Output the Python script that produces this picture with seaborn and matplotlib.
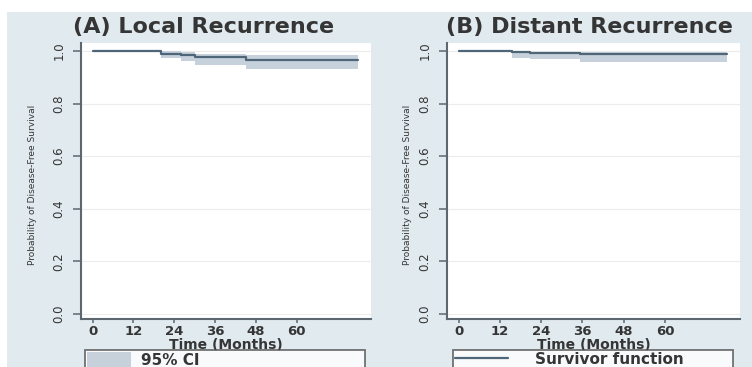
"""
Kaplan-Meier style disease-free survival curves: local vs distant recurrence.
"""

import matplotlib

matplotlib.use("Agg")

import matplotlib.pyplot as plt
import pandas as pd
import seaborn as sns
from matplotlib.lines import Line2D
from matplotlib.patches import Patch, Rectangle

# (A) Local recurrence: step times (months), survivor estimate and 95% CI
TIME_A = [0, 20, 26, 30, 45, 78]
SURV_A = [1.0, 0.990, 0.985, 0.978, 0.966, 0.966]
LOW_A = [1.0, 0.972, 0.963, 0.947, 0.930, 0.930]
UPP_A = [1.0, 0.998, 0.995, 0.987, 0.984, 0.984]

# (B) Distant recurrence
TIME_B = [0, 15.6, 20.6, 35.3, 78]
SURV_B = [1.0, 0.995, 0.991, 0.987, 0.987]
LOW_B = [1.0, 0.973, 0.968, 0.958, 0.958]
UPP_B = [1.0, 0.998, 0.997, 0.996, 0.996]

TITLES = ["(A) Local Recurrence", "(B) Distant Recurrence"]
X_TICKS = [0, 12, 24, 36, 48, 60]
Y_TICKS = [0.0, 0.2, 0.4, 0.6, 0.8, 1.0]
Y_LABEL = "Probability of Disease-Free Survival"
X_LABEL = "Time (Months)"

BG = "#e1eaee"
LINE = "#4f6578"
BAND = "#c7d1db"
AXIS = "#5d6770"
TEXT = "#353535"

sns.set_theme(style="ticks")
plt.rcParams["font.family"] = ["DejaVu Sans"]

W, H = 752, 367
fig = plt.figure(figsize=(W / 100, H / 100), dpi=100, facecolor="white")
fig.patches.append(Rectangle((7 / W, 0), 1, 1 - 12 / H, transform=fig.transFigure,
                             facecolor=BG, edgecolor="none", zorder=-10))


def px_box(x0, x1, y0, y1):
    """Axes rectangle from pixel edges (y measured from the top)."""
    return [x0 / W, 1 - y1 / H, (x1 - x0) / W, (y1 - y0) / H]


panels = [
    dict(box=px_box(81, 371, 43, 319), t=TIME_A, s=SURV_A, lo=LOW_A, hi=UPP_A,
         title_x=0.424, ylab_x=-0.150),
    dict(box=px_box(447, 740, 43, 319), t=TIME_B, s=SURV_B, lo=LOW_B, hi=UPP_B,
         title_x=0.485, ylab_x=-0.118),
]

axes = []
for p, title in zip(panels, TITLES):
    ax = fig.add_axes(p["box"])
    ax.set_facecolor("white")
    df = pd.DataFrame({"time": p["t"], "surv": p["s"], "lo": p["lo"], "hi": p["hi"]})
    band = df[df["time"] > 0]
    ax.fill_between(band["time"], band["lo"], band["hi"], step="post",
                    color=BAND, lw=0, zorder=2)
    sns.lineplot(data=df, x="time", y="surv", ax=ax, color=LINE, lw=1.6,
                 drawstyle="steps-post", zorder=3)

    ax.set_xlim(-3.4, 81.8)
    ax.set_ylim(-0.019, 1.030)
    ax.set_xticks(X_TICKS)
    ax.set_yticks(Y_TICKS)
    ax.set_yticklabels([f"{v:.1f}" for v in Y_TICKS], rotation=90, va="center",
                       fontsize=8.5, color=TEXT)
    ax.set_xticklabels([str(v) for v in X_TICKS], fontsize=9.5, fontweight="bold",
                       color=TEXT)
    ax.tick_params(axis="y", length=6, width=1.1, color=AXIS, pad=5)
    ax.tick_params(axis="x", length=3, width=1.1, color=AXIS, pad=1)
    ax.grid(axis="y", color="#ececec", lw=0.8)
    ax.set_axisbelow(True)
    for side in ("top", "right"):
        ax.spines[side].set_visible(False)
    for side in ("left", "bottom"):
        ax.spines[side].set_color(AXIS)
        ax.spines[side].set_linewidth(1.5)

    ax.set_xlabel(X_LABEL, fontsize=10, fontweight="bold", color=TEXT, labelpad=0)
    ax.set_ylabel(Y_LABEL, fontsize=6.5, color=TEXT)
    ax.yaxis.set_label_coords(p["ylab_x"], 0.486)
    ax.set_title(title, fontsize=16, fontweight="bold", color=TEXT, x=p["title_x"],
                 y=1.058, va="center", pad=0)
    axes.append(ax)

leg_kw = dict(loc="upper left", mode="expand", borderaxespad=0,
              frameon=True, fancybox=False, borderpad=0.1,
              bbox_transform=fig.transFigure, prop={"weight": "bold", "size": 11})
leg_a = axes[0].legend(handles=[Patch(facecolor=BAND, edgecolor="none", label="95% CI")],
                       bbox_to_anchor=(85 / W, 1 - 350 / H, 280 / W, 0),
                       handlelength=2.9, handleheight=1.3, handletextpad=0.65, **leg_kw)
leg_b = axes[1].legend(handles=[Line2D([], [], color=LINE, lw=1.6, label="Survivor function")],
                       bbox_to_anchor=(453 / W, 1 - 350 / H, 280 / W, 0),
                       handlelength=3.5, handletextpad=1.75, **leg_kw)
for leg in (leg_a, leg_b):
    leg.get_frame().set_edgecolor("#505050")
    leg.get_frame().set_linewidth(1.3)
    for t in leg.get_texts():
        t.set_color(TEXT)

fig.savefig("out.png", dpi=100, facecolor=fig.get_facecolor())
